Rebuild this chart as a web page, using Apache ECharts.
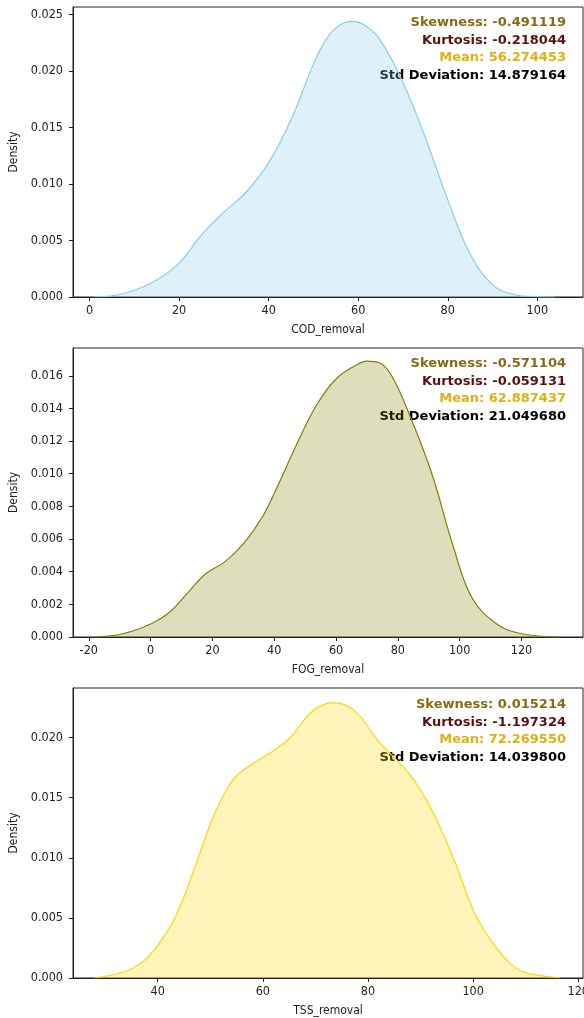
<!DOCTYPE html>
<html>
<head>
<meta charset="UTF-8">
<title>KDE removal</title>
<script type="text/javascript" src="https://cdn.jsdelivr.net/npm/echarts@6/dist/echarts.min.js"></script>
<style>
  html, body { margin: 0; padding: 0; background: #fff; }
</style>
</head>
<body>
<div id="main" style="width:584px;height:1018px"></div>
<script type="text/javascript">
    // COD_removal density curve
    var codX = [1, 5, 10, 15, 20, 25, 30, 35, 40, 45, 50, 53, 56, 59, 62, 65, 70, 75, 80, 85, 90, 95, 100, 104];
    var codY = [0.00002, 0.0001, 0.0006, 0.0015, 0.0030, 0.0055, 0.0075, 0.0093, 0.0119, 0.0157, 0.0206, 0.0229,
        0.0241, 0.0244, 0.0239, 0.0227, 0.0190, 0.0141, 0.0086, 0.0038, 0.0011, 0.0002, 0.00003, 0.0];

    // FOG_removal density curve
    var fogX = [-18, -9, 0, 6, 12, 18, 24, 30, 36, 41, 48, 54, 60, 66, 70, 74, 78, 84, 91, 98, 104, 112, 120, 132];
    var fogY = [0.0, 0.0002, 0.0008, 0.0015, 0.0027, 0.0039, 0.0046, 0.0057, 0.0073, 0.0092, 0.0121, 0.0143,
        0.0158, 0.0166, 0.0169, 0.0168, 0.0160, 0.0135, 0.0100, 0.0055, 0.0024, 0.0008, 0.0002, 0.0];

    // TSS_removal density curve
    var tssX = [28, 33.5, 37, 40, 43.5, 47, 50.5, 54, 57, 61, 65, 69.5, 73.5, 77.5, 82, 88, 92, 96.5, 100.5, 105, 109, 113, 116.5];
    var tssY = [0.0, 0.0005, 0.0013, 0.0027, 0.0052, 0.0091, 0.0133, 0.0163, 0.0175, 0.0186, 0.0199, 0.0222,
        0.0229, 0.0222, 0.0197, 0.0169, 0.0141, 0.0097, 0.0052, 0.0022, 0.0006, 0.0002, 0.0];

    var codTicks = [0, 20, 40, 60, 80, 100];
    var fogTicks = [-20, 0, 20, 40, 60, 80, 100, 120];
    var tssTicks = [40, 60, 80, 100, 120];
    var codYTicks = [0, 0.005, 0.010, 0.015, 0.020, 0.025];
    var fogYTicks = [0, 0.002, 0.004, 0.006, 0.008, 0.010, 0.012, 0.014, 0.016];
    var tssYTicks = [0, 0.005, 0.010, 0.015, 0.020];

    var names = ['COD_removal', 'FOG_removal', 'TSS_removal'];
    var statLabels = ['Skewness', 'Kurtosis', 'Mean', 'Std Deviation'];
    var codStats = ['-0.491119', '-0.218044', '56.274453', '14.879164'];
    var fogStats = ['-0.571104', '-0.059131', '62.887437', '21.049680'];
    var tssStats = ['0.015214', '-1.197324', '72.269550', '14.039800'];

    var statColors = ['#8b6914', '#5c0f12', '#e0b010', '#000000'];
    var lineColors = ['#87ceeb', '#808000', '#ffd700'];
    var fillColors = ['rgba(135,206,235,0.28)', 'rgba(128,128,0,0.26)', 'rgba(255,215,0,0.27)'];

    function pairs(xs, ys) {
        var out = [];
        for (var i = 0; i < xs.length; i++) out.push([xs[i], ys[i]]);
        return out;
    }

    var grids = [
        {left: 73, right: 1, top: 7, height: 290},
        {left: 73, right: 1, top: 348, height: 289},
        {left: 73, right: 1, top: 688, height: 290}
    ];
    var xRanges = [[-3.7, 110.2], [-25.1, 139.9], [23.9, 120.9]];
    var yMax = [0.02568, 0.0177, 0.02412];
    var xTicks = [codTicks, fogTicks, tssTicks];
    var yTicks = [codYTicks, fogYTicks, tssYTicks];
    var stats = [codStats, fogStats, tssStats];
    var curves = [pairs(codX, codY), pairs(fogX, fogY), pairs(tssX, tssY)];

    var font = '"DejaVu Sans Condensed", "DejaVu Sans", sans-serif';
    var xAxes = [], yAxes = [], series = [], graphics = [];
    for (var k = 0; k < 3; k++) {
        grids[k].show = true;
        grids[k].borderColor = '#222';
        grids[k].borderWidth = 1;
        grids[k].backgroundColor = 'transparent';
        grids[k].outerBoundsMode = 'none';
        grids[k].containLabel = false;
        xAxes.push({
            type: 'value', gridIndex: k, min: xRanges[k][0], max: xRanges[k][1],
            name: names[k], nameLocation: 'middle', nameGap: 27,
            nameTextStyle: {fontFamily: font, fontSize: 12, color: '#222'},
            axisLine: {show: true, onZero: false, lineStyle: {color: '#222'}},
            axisTick: {show: true, length: 4, lineStyle: {color: '#222'}, customValues: xTicks[k]},
            axisLabel: {fontFamily: font, fontSize: 12.5, color: '#222', margin: 7, customValues: xTicks[k]},
            splitLine: {show: false}
        });
        yAxes.push({
            type: 'value', gridIndex: k, min: 0, max: yMax[k],
            name: 'Density', nameLocation: 'middle', nameGap: 52, nameRotate: 90,
            nameTextStyle: {fontFamily: font, fontSize: 12, color: '#222'},
            axisLine: {show: true, onZero: false, lineStyle: {color: '#222'}},
            axisTick: {show: true, length: 4, lineStyle: {color: '#222'}, customValues: yTicks[k]},
            axisLabel: {
                fontFamily: font, fontSize: 12.5, color: '#222', margin: 10, customValues: yTicks[k],
                formatter: function (v) { return v.toFixed(3); }
            },
            splitLine: {show: false}
        });
        series.push({
            type: 'line', xAxisIndex: k, yAxisIndex: k, data: curves[k],
            smooth: 0.4, showSymbol: false, silent: true,
            lineStyle: {color: lineColors[k], width: 1.2},
            areaStyle: {color: fillColors[k], opacity: 1, origin: 'start'}
        });
        var rowTop = [21, 362, 703][k];
        for (var j = 0; j < 4; j++) {
            graphics.push({
                type: 'text', right: 18, top: rowTop + j * 17.7 - 5,
                style: {
                    text: statLabels[j] + ': ' + stats[k][j],
                    font: 'bold 13px "DejaVu Sans"', fill: statColors[j], textAlign: 'right'
                }
            });
        }
    }

    var myChart = echarts.init(document.getElementById('main'));
    myChart.setOption({
        animation: false,
        grid: grids,
        xAxis: xAxes,
        yAxis: yAxes,
        series: series,
        graphic: graphics
    });
</script>
</body>
</html>
